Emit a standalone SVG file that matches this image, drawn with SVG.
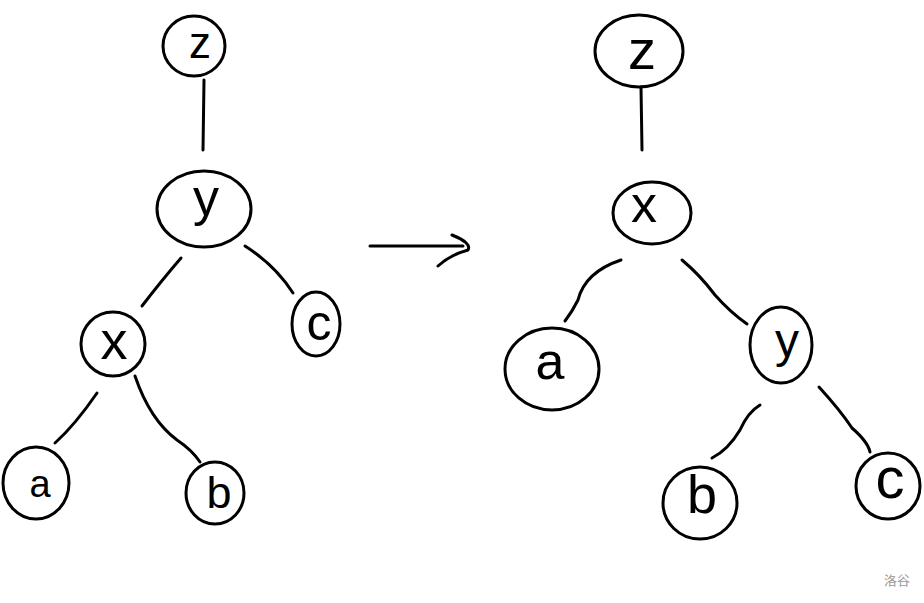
<svg xmlns="http://www.w3.org/2000/svg" width="924" height="603" viewBox="0 0 924 603">
<style>
.n{fill:none;stroke:#000;stroke-width:3}
.l{fill:#000;font-family:"Liberation Sans",Arial,sans-serif;text-anchor:middle}
.c{fill:none;stroke:#000;stroke-width:3;stroke-linecap:round;stroke-linejoin:round}
.w{fill:#999;font-family:"Noto Sans CJK SC","Noto Sans",sans-serif;font-size:13px;text-anchor:middle}
</style>
<rect width="924" height="603" fill="#fff"/>
<g id="connectors">
<path class="c" d="M204,80 L203,150"/>
<path class="c" d="M181,258 Q162,280 142,306"/>
<path class="c" d="M245,246 Q275,265 293,293"/>
<path class="c" d="M97,393 Q75,425 55,443"/>
<path class="c" d="M135,376 Q150,420 177,440 Q192,450 200,462"/>
<path class="c" d="M641,87 L642,150"/>
<path class="c" d="M621,260 Q585,272 578,300 Q572,312 565,321"/>
<path class="c" d="M682,260 Q700,275 715,295 Q730,312 747,324"/>
<path class="c" d="M760,405 Q748,412 740,430 Q728,450 712,458"/>
<path class="c" d="M819,387 Q840,410 852,428 Q868,442 870,452"/>
<path class="c" d="M370,246 L463,246"/>
<path class="c" d="M452,235 Q472,243 468,250 Q450,255 438,266"/>
</g>
<g id="node-z-left">
<ellipse class="n" cx="194" cy="46" rx="31" ry="30"/>
<text class="l" x="200" y="58" font-size="44">z</text>
</g>
<g id="node-y-left">
<ellipse class="n" cx="204" cy="209" rx="47" ry="38"/>
<text class="l" x="206" y="215" font-size="52">y</text>
</g>
<g id="node-x-left">
<ellipse class="n" cx="113" cy="344" rx="32" ry="32"/>
<text class="l" x="114" y="359" font-size="54">x</text>
</g>
<g id="node-c-left">
<ellipse class="n" cx="316" cy="324" rx="24" ry="32"/>
<text class="l" x="319" y="340" font-size="50">c</text>
</g>
<g id="node-a-left">
<ellipse class="n" cx="36" cy="483" rx="33" ry="36"/>
<text class="l" x="40" y="497" font-size="38">a</text>
</g>
<g id="node-b-left">
<ellipse class="n" cx="215" cy="493" rx="29" ry="31"/>
<text class="l" x="219" y="508" font-size="45">b</text>
</g>
<g id="node-z-right">
<ellipse class="n" cx="639" cy="51" rx="44" ry="36"/>
<text class="l" x="642" y="69" font-size="56">z</text>
</g>
<g id="node-x-right">
<ellipse class="n" cx="652" cy="213" rx="39" ry="31"/>
<text class="l" x="644" y="222" font-size="52">x</text>
</g>
<g id="node-a-right">
<ellipse class="n" cx="552" cy="369" rx="47" ry="41"/>
<text class="l" x="550" y="379" font-size="52">a</text>
</g>
<g id="node-y-right">
<ellipse class="n" cx="781" cy="345" rx="31" ry="38"/>
<text class="l" x="787" y="357" font-size="48">y</text>
</g>
<g id="node-b-right">
<ellipse class="n" cx="700" cy="503" rx="37" ry="36"/>
<text class="l" x="702" y="513" font-size="54">b</text>
</g>
<g id="node-c-right">
<ellipse class="n" cx="888" cy="486" rx="32" ry="33"/>
<text class="l" x="890" y="498" font-size="58">c</text>
</g>
<text class="w" x="897" y="585">洛谷</text>
</svg>
